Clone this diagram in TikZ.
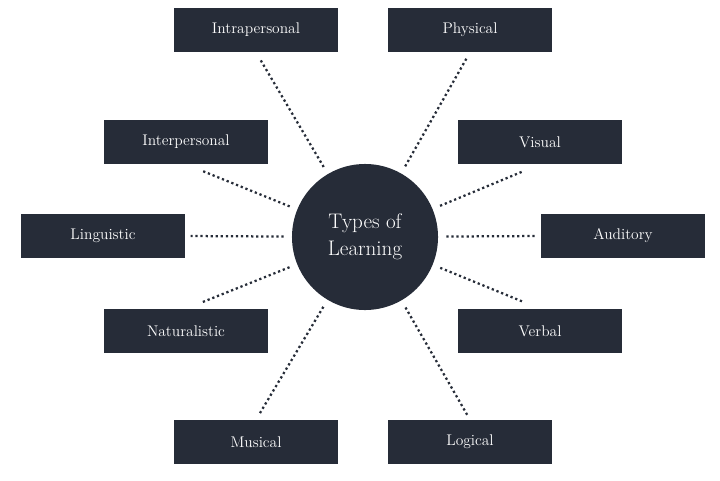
\documentclass[tikz,border=0pt]{standalone}
\usepackage{tikz}
\usetikzlibrary{positioning,backgrounds}
\definecolor{navy}{HTML}{262C38}

\begin{document}
\begin{tikzpicture}[
    x=0.025cm, y=-0.025cm,
    box/.style={fill=navy, text=white, minimum width=4.1cm, minimum height=1.1cm, font=\fontsize{11}{13}\selectfont},
    hub/.style={circle, fill=navy, text=white, minimum size=3.65cm, align=center, font=\fontsize{15}{19}\selectfont},
    link/.style={dotted, line width=1.6pt, navy, shorten <=0.2cm}
]
\useasboundingbox (0,0) rectangle (720,480);
% Centre
\node[hub] (c) at (365,237) {Types of\\Learning};
% Boxes
\node[box] (intra) at (256,30) {Intrapersonal};
\node[box] (phys) at (470,30) {Physical};
\node[box] (inter) at (186,142) {Interpersonal};
\node[box] (vis) at (540,142) {Visual};
\node[box] (ling) at (103,236) {Linguistic};
\node[box] (aud) at (623,236) {Auditory};
\node[box] (nat) at (186,331) {Naturalistic};
\node[box] (verb) at (540,331) {Verbal};
\node[box] (mus) at (256,442) {Musical};
\node[box] (log) at (470,442) {Logical};
% Dotted links
\foreach \b/\a/\s in {intra/south/0.18, phys/south/0.18, inter/south/0.45, vis/south/0.45,
    ling/east/0.13, aud/west/0.13, nat/north/0.45, verb/north/0.45, mus/north/0.13, log/north/0.13}
  \draw[link, shorten >=\s cm] (c) -- (\b.\a);
\end{tikzpicture}
\end{document}
